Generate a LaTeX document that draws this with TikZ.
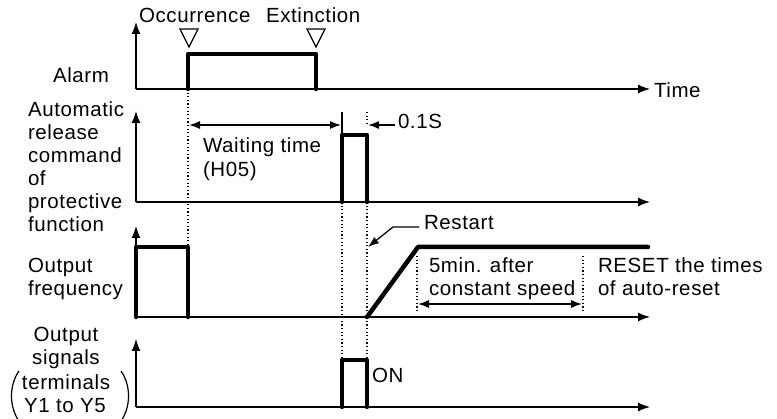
\documentclass[tikz,border=0pt]{standalone}
\usepackage{fontspec}
\setmainfont{Liberation Sans}[LetterSpace=3]
\usetikzlibrary{arrows.meta}
\begin{document}
\begin{tikzpicture}[x=1pt,y=-1pt,
  every node/.style={inner sep=0pt,outer sep=0pt,font=\fontsize{20.5}{23}\selectfont},
  axis/.style={line width=1.3pt,-{Latex[length=12pt,width=9pt]}},
  sig/.style={line width=4.5pt,line join=round,line cap=round},
  guide/.style={line width=1.2pt,dash pattern=on 1.2pt off 2.4pt},
  dim/.style={line width=1.3pt,{Latex[length=11pt,width=8pt]}-{Latex[length=11pt,width=8pt]}},
  lead/.style={line width=1.3pt,-{Latex[length=11pt,width=8pt]}},
  thinline/.style={line width=1.3pt},
  lbl/.style={anchor=base west},
  lblc/.style={anchor=base},
  tri/.style={line width=1.2pt,line join=miter},
  paren/.style={line width=1.2pt}]
\useasboundingbox (0,0) rectangle (777,419);

% axes
\coordinate (o1) at (136,89);  \coordinate (y1) at (136,22);  \coordinate (x1) at (650,89);
\coordinate (o2) at (136,202); \coordinate (y2) at (136,111); \coordinate (x2) at (650,202);
\coordinate (o3) at (136,317); \coordinate (y3) at (136,226); \coordinate (x3) at (650,317);
\coordinate (o4) at (136,407); \coordinate (y4) at (136,339); \coordinate (x4) at (650,407);
\foreach \i in {1,2,3,4}{
  \draw[axis] (o\i) -- (y\i);
  \draw[axis] (o\i) -- (x\i);
}

% guide lines (dotted)
\coordinate (g1a) at (188,89);  \coordinate (g1b) at (188,247);
\coordinate (g2a) at (342,202); \coordinate (g2b) at (342,360);
\coordinate (g3a) at (367,112); \coordinate (g3b) at (367,124);
\coordinate (g3c) at (367,202); \coordinate (g3d) at (367,360);
\coordinate (g4a) at (417,256); \coordinate (g4b) at (417,312);
\coordinate (g5a) at (583,256); \coordinate (g5b) at (583,312);
\draw[guide] (g1a) -- (g1b);
\draw[guide] (g2a) -- (g2b);
\draw[guide] (g3a) -- (g3b);
\draw[guide] (g3c) -- (g3d);
\draw[guide] (g4a) -- (g4b);
\draw[guide] (g5a) -- (g5b);

% signals
\coordinate (a0) at (188,89); \coordinate (a1) at (188,54); \coordinate (a2) at (316,54); \coordinate (a3) at (316,89);
\draw[sig] (a0) -- (a1) -- (a2) -- (a3);
\coordinate (b0) at (342,202); \coordinate (b1) at (342,135); \coordinate (b2) at (367,135); \coordinate (b3) at (367,202);
\draw[sig] (b0) -- (b1) -- (b2) -- (b3);
\coordinate (c0) at (136,317); \coordinate (c1) at (136,247); \coordinate (c2) at (188,247); \coordinate (c3) at (188,317);
\draw[sig] (c0) -- (c1) -- (c2) -- (c3);
\coordinate (d0) at (367,317); \coordinate (d1) at (418,247); \coordinate (d2) at (648,247);
\draw[sig] (d0) -- (d1) -- (d2);
\coordinate (e0) at (342,407); \coordinate (e1) at (342,360); \coordinate (e2) at (367,360); \coordinate (e3) at (367,407);
\draw[sig] (e0) -- (e1) -- (e2) -- (e3);

% event triangles
\draw[tri] (180,29) -- (198,29) -- (189,47) -- cycle;
\draw[tri] (307,29) -- (325,29) -- (316,47) -- cycle;

% dimension arrows
\coordinate (wa) at (189,125); \coordinate (wb) at (341,125);
\draw[dim] (wa) -- (wb);
\coordinate (t1) at (342,112); \coordinate (t2) at (342,134);
\draw[thinline] (t1) -- (t2);
\coordinate (sa) at (395,125); \coordinate (sb) at (368,125);
\draw[lead] (sa) -- (sb);
\coordinate (rs1) at (419,227); \coordinate (rs2) at (393,227); \coordinate (rs3) at (368,247);
\draw[lead] (rs1) -- (rs2) -- (rs3);
\coordinate (fa) at (418,304); \coordinate (fb) at (582,304);
\draw[dim] (fa) -- (fb);

% parentheses
\draw[paren] (19,371) .. controls (9,385) and (9,407) .. (19,421);
\draw[paren] (121,371) .. controls (131,385) and (131,407) .. (121,421);

% texts
\node[lbl] (occ) at (139,23) {Occurrence};
\node[lbl] (ext) at (266,23) {Extinction};
\node[lbl] (time) at (654,97.5) {Time};
\node[lblc] (alarm) at (81,82.5) {Alarm};
\node[lbl] (ar1) at (28,117) {Automatic};
\node[lbl] (ar2) at (28,140) {release};
\node[lbl] (ar3) at (28,163) {command};
\node[lbl] (ar4) at (28,186) {of};
\node[lbl] (ar5) at (28,209) {protective};
\node[lbl] (ar6) at (28,232) {function};
\node[lbl] (wt1) at (203,153) {Waiting time};
\node[lbl] (wt2) at (203,177) {(H05)};
\node[lbl] (s01) at (398,129) {0.1S};
\node[lbl] (rst) at (424,230) {Restart};
\node[lbl] (of1) at (28,273) {Output};
\node[lbl] (of2) at (28,296) {frequency};
\node[lbl] (cs1) at (429,273) {5min. after};
\node[lbl] (cs2) at (429,296) {constant speed};
\node[lbl] (rr1) at (598,273) {RESET the times};
\node[lbl] (rr2) at (598,296) {of auto-reset};
\node[lblc] (os1) at (66,342) {Output};
\node[lblc] (os2) at (66,365) {signals};
\node[lblc] (os3) at (66,390) {terminals};
\node[lblc] (os4) at (65,413) {Y1 to Y5};
\node[lbl] (on) at (372,383) {ON};
\end{tikzpicture}
\end{document}
